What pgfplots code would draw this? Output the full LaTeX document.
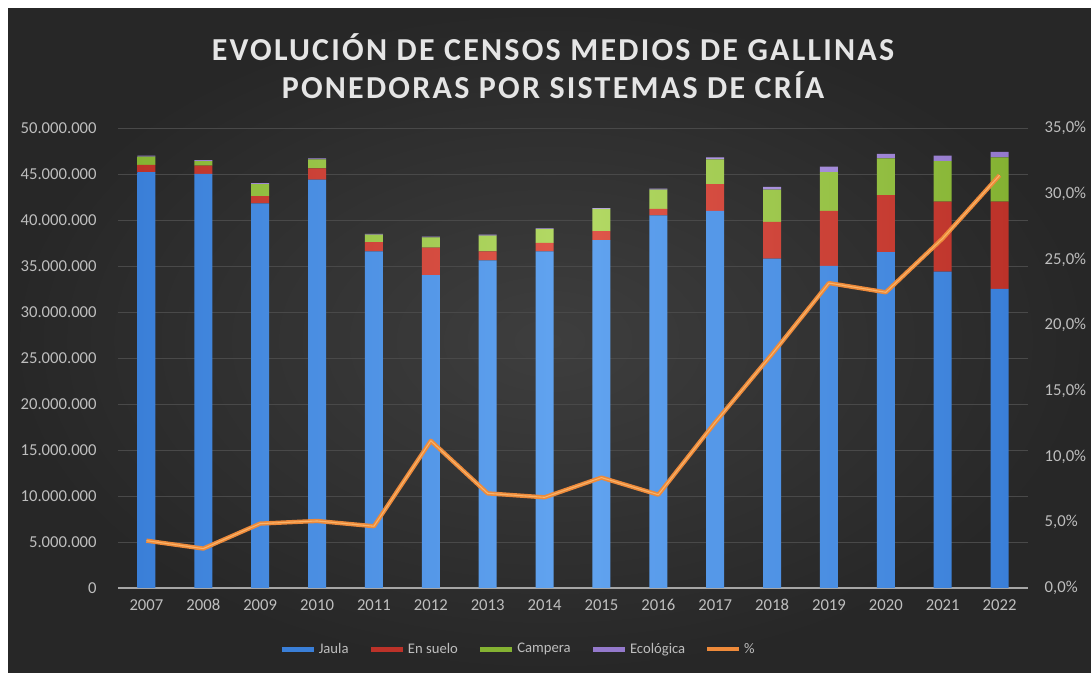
\documentclass[border=0pt]{standalone}
\usepackage{pgfplots}
\pgfplotsset{compat=1.18}
\usepackage{pgfplotstable}
\usepackage{fontspec}
\setmainfont{Carlito}
\newfontfamily\titlefont[LetterSpace=7]{Carlito}
\definecolor{bgA}{HTML}{3E3E3E}
\definecolor{bgB}{HTML}{272727}
\definecolor{lbl}{HTML}{BEBEBE}
\definecolor{gridc}{HTML}{494949}
\definecolor{jaula}{HTML}{3A7FD8}
\definecolor{jaulaL}{HTML}{62A4F0}
\definecolor{suelo}{HTML}{BC3229}
\definecolor{sueloL}{HTML}{E0584B}
\definecolor{campera}{HTML}{84B232}
\definecolor{camperaL}{HTML}{B4DA66}
\definecolor{eco}{HTML}{9479CC}
\definecolor{ecoL}{HTML}{B9A3EA}
\definecolor{pct}{HTML}{EE8A3A}
\definecolor{pctL}{HTML}{F8B46A}

\pgfplotstableread{
i year jaula suelo campera eco pct
0 2007 45.2 0.8 0.9 0.1 3.6
1 2008 45.0 0.9 0.5 0.1 3.0
2 2009 41.8 0.8 1.3 0.1 4.9
3 2010 44.4 1.2 1.0 0.1 5.1
4 2011 36.6 1.0 0.8 0.1 4.7
5 2012 34.0 3.0 1.1 0.1 11.2
6 2013 35.6 1.0 1.7 0.1 7.2
7 2014 36.6 0.9 1.5 0.1 6.9
8 2015 37.8 1.0 2.4 0.1 8.4
9 2016 40.5 0.7 2.1 0.1 7.1
10 2017 41.0 2.9 2.7 0.2 12.6
11 2018 35.8 4.0 3.5 0.3 17.8
12 2019 35.0 6.0 4.2 0.6 23.2
13 2020 36.5 6.2 4.0 0.5 22.5
14 2021 34.4 7.6 4.4 0.6 26.6
15 2022 32.5 9.5 4.8 0.6 31.4
}\datos

\begin{document}
\begin{tikzpicture}
\fill[white] (0pt,0pt) rectangle (818.25pt,504.75pt);
\shade[inner color=bgA, outer color=bgB] (6pt,0pt) rectangle (818.25pt,498pt);
\node[font=\titlefont\bfseries\fontsize{24}{28}\selectfont, text=white!90!black] at (414.75pt,469.5pt) {EVOLUCIÓN DE CENSOS MEDIOS DE GALLINAS};
\node[font=\titlefont\bfseries\fontsize{24}{28}\selectfont, text=white!90!black] at (414.75pt,440.5pt) {PONEDORAS POR SISTEMAS DE CRÍA};

\begin{axis}[
  at={(88.5pt,63.75pt)}, anchor=south west, scale only axis,
  width=682.5pt, height=345pt,
  xmin=-0.5, xmax=15.5, ymin=0, ymax=50,
  ybar stacked, bar width=13.5pt,
  axis lines*=left,
  y axis line style={draw=none},
  x axis line style={draw=gray!70, line width=0.8pt},
  xtick={0,...,15},
  xticklabels={2007,2008,2009,2010,2011,2012,2013,2014,2015,2016,2017,2018,2019,2020,2021,2022},
  ytick={0,5,...,50},
  yticklabels={0,5.000.000,10.000.000,15.000.000,20.000.000,25.000.000,30.000.000,35.000.000,40.000.000,45.000.000,50.000.000},
  tick style={draw=none},
  ymajorgrids, grid style={draw=gridc, line width=0.7pt},
  tick label style={font=\fontsize{12.5}{14}\selectfont, text=lbl},
  yticklabel style={xshift=-12.5pt},
  xticklabel style={yshift=-5pt},
]
\addplot[draw=none, left color=jaula, right color=jaula, middle color=jaulaL] table[x=i,y=jaula]{\datos};
\addplot[draw=none, left color=suelo, right color=suelo, middle color=sueloL] table[x=i,y=suelo]{\datos};
\addplot[draw=none, left color=campera, right color=campera, middle color=camperaL] table[x=i,y=campera]{\datos};
\addplot[draw=none, left color=eco, right color=eco, middle color=ecoL] table[x=i,y=eco]{\datos};
\end{axis}

\begin{axis}[
  at={(88.5pt,63.75pt)}, anchor=south west, scale only axis,
  width=682.5pt, height=345pt,
  xmin=-0.5, xmax=15.5, ymin=0, ymax=35,
  axis x line=none,
  axis y line*=right,
  y axis line style={draw=none},
  ytick={0,5,...,35},
  yticklabels={{0,0\%},{5,0\%},{10,0\%},{15,0\%},{20,0\%},{25,0\%},{30,0\%},{35,0\%}},
  tick style={draw=none},
  tick label style={font=\fontsize{12.5}{14}\selectfont, text=lbl},
  yticklabel style={xshift=9pt},
  legend columns=5,
  legend style={at={(0.44,-0.133)}, anchor=center, draw=none, fill=none,
    font=\fontsize{11}{13}\selectfont, text=lbl,
    /tikz/every even column/.append style={column sep=13pt}},
  legend image code/.code={\draw[#1] (0pt,0pt) -- (24pt,0pt);},
]
\addlegendimage{draw=jaula, line width=3.5pt}
\addlegendentry{Jaula}
\addlegendimage{draw=suelo, line width=3.5pt}
\addlegendentry{En suelo}
\addlegendimage{draw=campera, line width=3.5pt}
\addlegendentry{Campera}
\addlegendimage{draw=eco, line width=3.5pt}
\addlegendentry{Ecológica}
\addplot[draw=pct, line width=3.2pt, line join=round] table[x=i,y=pct]{\datos};
\addlegendentry{\%}
\addplot[draw=pctL, line width=0.8pt, line join=round, forget plot] table[x=i,y=pct]{\datos};
\end{axis}
\end{tikzpicture}
\end{document}
